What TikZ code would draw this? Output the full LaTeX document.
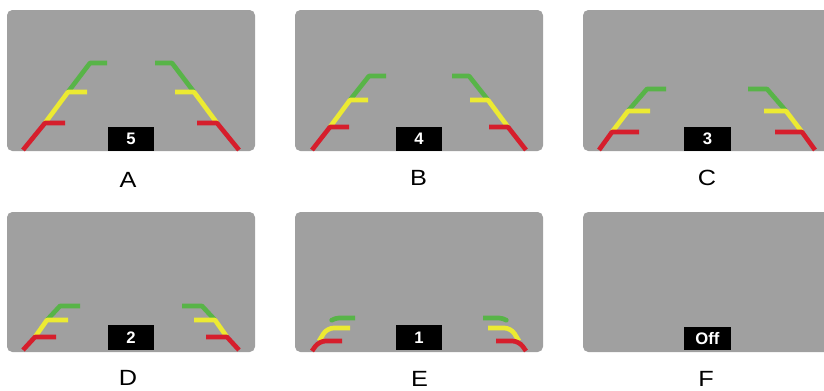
\documentclass[tikz,border=0pt]{standalone}
\usepackage{fontspec}
\setmainfont{Liberation Sans}
\begin{document}
\begin{tikzpicture}[x=0.75pt,y=-0.75pt,
  screen/.style={fill=scrgray,draw=none,rounded corners=4},
  guide/.style={line width=3.5,line cap=butt,line join=round},
  redg/.style={guide,draw=guidered},
  yelg/.style={guide,draw=guideyellow},
  grng/.style={guide,draw=guidegreen},
  badge/.style={fill=black,text=white,inner sep=0,minimum width=25.5,minimum height=13.5,
    font=\bfseries\fontsize{12.5}{12.5}\selectfont},
  caption/.style={anchor=base,font=\fontsize{16.5}{16.5}\selectfont,xscale=1.15}]
\definecolor{scrgray}{RGB}{160,160,160}
\definecolor{guidered}{RGB}{214,30,44}
\definecolor{guideyellow}{RGB}{236,234,50}
\definecolor{guidegreen}{RGB}{88,180,72}
\useasboundingbox (0,0) rectangle (824,390);
\clip (0,0) rectangle (824,390);

% screens
\fill[screen] (7,10) rectangle (255,151);
\fill[screen] (295,10) rectangle (543,151);
\fill[screen] (583,10) rectangle (834,151);
\fill[screen] (7,212) rectangle (255,352);
\fill[screen] (295,212) rectangle (543,352);
\fill[screen] (583,212) rectangle (834,352);

% guide lines, drawn for the left side and mirrored for the right
% step 5
\begin{scope}[shift={(131,151)}]
\foreach \s in {1,-1}{
 \begin{scope}[xscale=\s]
  \draw[grng] (-63,-59) -- (-41,-88) -- (-24,-88);
  \draw[yelg] (-86,-28) -- (-63,-59) -- (-44,-59);
  \draw[redg] (-108,-1) -- (-86,-28) -- (-66,-28);
 \end{scope}}
\end{scope}
% step 4
\begin{scope}[shift={(419,151)}]
\foreach \s in {1,-1}{
 \begin{scope}[xscale=\s]
  \draw[grng] (-69,-51) -- (-50,-75) -- (-33,-75);
  \draw[yelg] (-89,-24) -- (-69,-51) -- (-51,-51);
  \draw[redg] (-107,-1) -- (-89,-24) -- (-70,-24);
 \end{scope}}
\end{scope}
% step 3
\begin{scope}[shift={(707,151)}]
\foreach \s in {1,-1}{
 \begin{scope}[xscale=\s]
  \draw[grng] (-79,-40) -- (-60,-62) -- (-41,-62);
  \draw[yelg] (-95,-19) -- (-79,-40) -- (-57,-40);
  \draw[redg] (-108,-1) -- (-95,-19) -- (-68,-19);
 \end{scope}}
\end{scope}
% step 2
\begin{scope}[shift={(131,352)}]
\foreach \s in {1,-1}{
 \begin{scope}[xscale=\s]
  \draw[grng] (-84,-32) -- (-71,-46) -- (-51,-46);
  \draw[yelg] (-96,-15) -- (-84,-32) -- (-63,-32);
  \draw[redg] (-108,-2) -- (-96,-15) -- (-75,-15);
 \end{scope}}
\end{scope}
% step 1
\begin{scope}[shift={(419,352)}]
\foreach \s in {1,-1}{
 \begin{scope}[xscale=\s]
  \draw[grng,rounded corners=3] (-87,-32) -- (-84,-34) -- (-64,-34);
  \draw[yelg,rounded corners=5] (-100,-11) -- (-92,-24) -- (-69,-24);
  \draw[redg,rounded corners=5] (-107,-1) -- (-100,-11) -- (-77,-11);
 \end{scope}}
\end{scope}

% step indicators
\node[badge,minimum width=34,minimum height=18] (n5) at (131,139) {5};
\node[badge,minimum width=34,minimum height=18] (n4) at (419,139) {4};
\node[badge,minimum width=35,minimum height=18] (n3) at (707.5,139) {3};
\node[badge,minimum width=34,minimum height=19] (n2) at (131,337.5) {2};
\node[badge,minimum width=34,minimum height=19] (n1) at (419,337.5) {1};
\node[badge,minimum width=35,minimum height=17] (noff) at (707.5,338.5) {Off};

% captions
\node[caption] (la) at (128,187) {A};
\node[caption] (lb) at (418.5,185) {B};
\node[caption] (lc) at (707,185) {C};
\node[caption] (ld) at (128,385) {D};
\node[caption] (le) at (419.5,386) {E};
\node[caption] (lf) at (706,386) {F};
\end{tikzpicture}
\end{document}
